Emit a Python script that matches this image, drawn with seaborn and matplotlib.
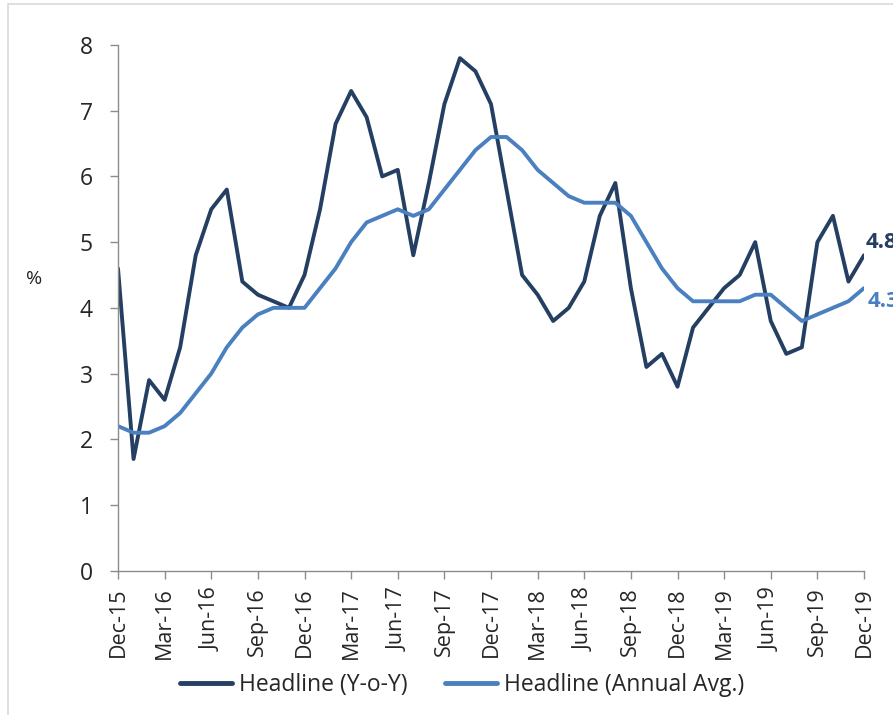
import matplotlib
matplotlib.use("Agg")
import matplotlib.pyplot as plt
import seaborn as sns
import pandas as pd
import numpy as np
from matplotlib.patches import Rectangle

# ---- data ----
months = pd.date_range("2015-12-01", "2019-12-01", freq="MS")
month_labels = [m.strftime("%b-%y") for m in months]
yoy = [4.6, 1.7, 2.9, 2.6, 3.4, 4.8, 5.5, 5.8, 4.4, 4.2, 4.1, 4.0, 4.5, 5.5, 6.8, 7.3, 6.9, 6.0, 6.1,
       4.8, 5.9, 7.1, 7.8, 7.6, 7.1, 5.8, 4.5, 4.2, 3.8, 4.0, 4.4, 5.4, 5.9, 4.3, 3.1, 3.3, 2.8,
       3.7, 4.0, 4.3, 4.5, 5.0, 3.8, 3.3, 3.4, 5.0, 5.4, 4.4, 4.8]
annual_avg = [2.2, 2.1, 2.1, 2.2, 2.4, 2.7, 3.0, 3.4, 3.7, 3.9, 4.0, 4.0, 4.0, 4.3, 4.6, 5.0, 5.3, 5.4, 5.5,
              5.4, 5.5, 5.8, 6.1, 6.4, 6.6, 6.6, 6.4, 6.1, 5.9, 5.7, 5.6, 5.6, 5.6, 5.4, 5.0, 4.6, 4.3,
              4.1, 4.1, 4.1, 4.1, 4.2, 4.2, 4.0, 3.8, 3.9, 4.0, 4.1, 4.3]
series_names = ["Headline (Y-o-Y)", "Headline (Annual Avg.)"]
end_labels = ["4.8", "4.3"]
colors = ["#243F62", "#4A80C0"]

sns.set_theme(style="white")
plt.rcParams["font.family"] = ["Open Sans", "DejaVu Sans"]

idx = np.arange(len(months))
df = pd.DataFrame({"idx": np.concatenate([idx, idx]),
                   "value": yoy + annual_avg,
                   "series": [series_names[0]] * len(idx) + [series_names[1]] * len(idx)})

fig = plt.figure(figsize=(8.93, 7.15), dpi=100)
ax = fig.add_axes([118 / 893, 1 - 570.7 / 715, (864 - 118) / 893, (570.7 - 45) / 715])

sns.lineplot(data=df, x="idx", y="value", hue="series", palette=colors,
             linewidth=2.8, ax=ax, legend=True)

ax.set_xlim(0, len(idx) - 1)
ax.set_ylim(0, 8)
ax.set_yticks(range(0, 9))
ax.set_yticklabels([str(v) for v in range(0, 9)], fontsize=16.5)
ticks = idx[::3]
ax.set_xticks(ticks)
ax.set_xticklabels([month_labels[i] for i in ticks], rotation=90, fontsize=15.5)
ax.set_xlabel("")
ax.set_ylabel("%", rotation=0, fontsize=14, va="center", ha="center")
ax.yaxis.set_label_coords(-0.112, 0.555)

for s in ["top", "right"]:
    ax.spines[s].set_visible(False)
for s in ["left", "bottom"]:
    ax.spines[s].set_color("#8C8C8C")
    ax.spines[s].set_linewidth(1.0)
ax.tick_params(axis="both", which="both", direction="out", length=6, width=1,
               color="#8C8C8C", pad=6, left=True, bottom=True)
ax.tick_params(axis="y", pad=12)

# end labels
ax.text(len(idx) - 1 + 0.1, 5.0, end_labels[0], color=colors[0], fontsize=16,
        fontweight="bold", va="center", ha="left", clip_on=False)
ax.text(len(idx) - 1 + 0.25, 4.1, end_labels[1], color=colors[1], fontsize=16,
        fontweight="bold", va="center", ha="left", clip_on=False)

leg = ax.legend(loc="center", bbox_to_anchor=(462 / 893, 1 - 685 / 715),
                bbox_transform=fig.transFigure, ncol=2, frameon=False,
                fontsize=16.5, handlelength=2.3, columnspacing=1.6, handletextpad=0.3)
for line in leg.get_lines():
    line.set_linewidth(3.5)

# outer light frame
fig.patches.append(Rectangle((8 / 893, -0.1), 1.2, 1 - 4 / 715 + 0.1, transform=fig.transFigure,
                             fill=False, edgecolor="#D9D9D9", linewidth=1.2))

fig.savefig("out.png", dpi=100)
